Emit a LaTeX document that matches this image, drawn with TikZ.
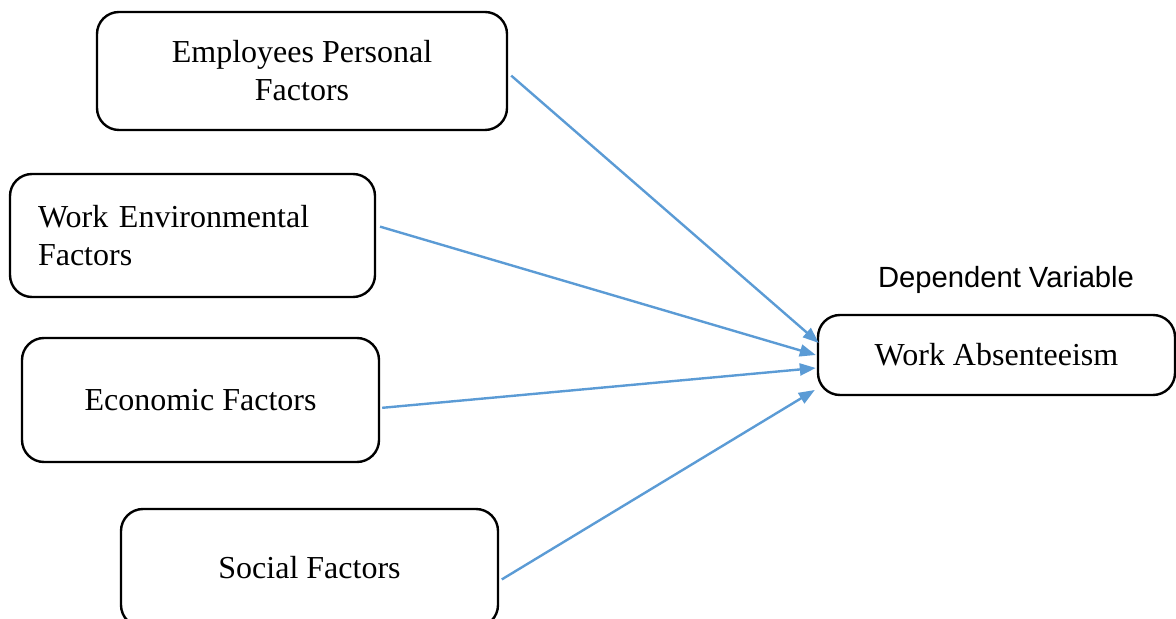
\documentclass[tikz,border=0pt]{standalone}
\usepackage{fontspec}
\setmainfont{Liberation Serif}
\newfontfamily\arialfont{Liberation Sans}
\usetikzlibrary{arrows.meta}
\definecolor{linkblue}{HTML}{5B9BD5}

\begin{document}
\begin{tikzpicture}[x=0.5pt,y=-0.5pt,
    factor/.style={draw,line width=1.2pt,rounded corners=11pt,align=center,inner sep=0pt,
      font=\fontsize{16}{19}\selectfont},
    link/.style={draw=linkblue,line width=1.2pt,-{Triangle[length=8pt,width=6pt]}}]
      \useasboundingbox (0,0) rectangle (1176,619);
      \node[factor,minimum width=205pt,minimum height=59pt] (emp) at (302,71) {Employees Personal\\Factors};
      \node[factor,minimum height=61.5pt,inner xsep=14pt,text width=154.5pt,align=left] (env) at (192.5,235.5) {Work Environmental\\Factors};
      \node[factor,minimum width=178.5pt,minimum height=62pt] (eco) at (200.5,400) {Economic Factors};
      \node[factor,minimum width=188.5pt,minimum height=59pt] (soc) at (309.5,568) {Social Factors};
      \node[factor,minimum width=178.5pt,minimum height=40pt] (abs) at (996.5,355) {Work Absenteeism};
      \node[font=\arialfont\fontsize{14.6}{17}\selectfont] (dep) at (1006,280) {Dependent Variable};
      \draw[link,shorten <=2pt] ([yshift=-1pt]emp.east) -- ([xshift=1pt,yshift=6pt]abs.west);
      \draw[link,shorten <=2pt] ([yshift=5pt]env.east) -- ([xshift=-0.5pt]abs.west);
      \draw[link,shorten <=1pt] ([yshift=-4pt]eco.east) -- ([xshift=-0.5pt,yshift=-6.5pt]abs.west);
      \draw[link,shorten <=1.5pt] ([yshift=-6.5pt]soc.east) -- ([xshift=-1pt,yshift=-17.5pt]abs.west);
\end{tikzpicture}
\end{document}
